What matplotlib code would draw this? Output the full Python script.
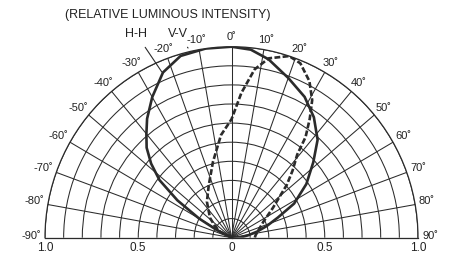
import numpy as np
import matplotlib
matplotlib.use("Agg")
import matplotlib.pyplot as plt

plt.rcParams['font.family'] = ['Liberation Sans', 'DejaVu Sans']

# H-H (solid) relative intensity vs angle (deg)
hh_angle = [-67, -63, -60, -56, -52, -48, -44, -40, -36, -30, -23, -16, -8, 0,
            6, 12, 20, 28, 35, 42, 48, 55, 62, 67, 72, 77, 82, 88, 90]
hh_value = [0.0, 0.09, 0.2, 0.35, 0.49, 0.58, 0.655, 0.71, 0.77, 0.85, 0.94, 0.99, 1.0, 1.0,
            0.99, 0.955, 0.89, 0.835, 0.77, 0.69, 0.59, 0.49, 0.38, 0.27, 0.2, 0.14, 0.09, 0.05, 0.0]

# V-V (dashed) relative intensity vs angle (deg)
vv_angle = [-70, -63, -55, -48, -35, -24, -14, -6, 0, 4, 8, 12, 18, 22, 27, 31,
            34, 37, 39, 43, 47, 55, 64, 75, 84, 90]
vv_value = [0.0, 0.07, 0.11, 0.155, 0.23, 0.30, 0.41, 0.54, 0.62, 0.76, 0.89, 0.96, 1.0, 0.985,
            0.92, 0.84, 0.75, 0.66, 0.56, 0.48, 0.405, 0.27, 0.19, 0.15, 0.13, 0.125]

angle_ticks = list(range(-90, 91, 10))
r_ticks = [1.0, 0.5, 0, 0.5, 1.0]
r_tick_angle = [-90, -90, 0, 90, 90]
r_tick_text = ['1.0', '0.5', '0', '0.5', '1.0']

ink = '#2b2b2b'

# centre of the half disk and its radii, in pixels
cx, cy, rx, ry = 231.5, 237.7, 186.5, 191.0

fig = plt.figure(figsize=(4.5, 2.6), dpi=100)
# the polar wedge box is padded to a square (y from -0.5 to 1.5)
ax = fig.add_axes([(cx - rx) / 450, 1 - (cy + 0.5 * ry) / 260, 2 * rx / 450, 2 * ry / 260],
                  projection='polar')
ax.set_theta_zero_location('N')
ax.set_theta_direction(-1)
ax.set_thetamin(-90)
ax.set_thetamax(90)
ax.set_rlim(0, 1.0)
ax.set_aspect('auto')

ax.set_xticks(np.radians(angle_ticks))
ax.set_xticklabels([])
ax.set_yticks(np.arange(0.1, 1.01, 0.1))
ax.set_yticklabels([])
ax.grid(True, color=ink, lw=0.75)
for sp in ax.spines.values():
    sp.set_color(ink)
    sp.set_linewidth(0.9)

ax.plot(np.radians(hh_angle), hh_value, color=ink, lw=1.9, solid_capstyle='round')
ax.plot(np.radians(vv_angle), vv_value, color=ink, lw=1.9, linestyle=(0, (2.2, 0.9)))

# angle labels round the rim
for a in angle_ticks:
    t = np.radians(a)
    s, c = np.sin(t), np.cos(t)
    dx = s * (13.5 if a < 0 else 12)
    dy = 2 + 8 * c
    ax.annotate(f"{a}\u02da", (t, 1.0), xytext=(dx, dy), textcoords='offset pixels',
                ha='center', va='center', fontsize=8, color='#222222', annotation_clip=False)

# radial scale under the baseline
for a, r, txt in zip(r_tick_angle, r_ticks, r_tick_text):
    ax.annotate(txt, (np.radians(a), r), xytext=(0, -10), textcoords='offset pixels',
                ha='center', va='center', fontsize=8.5, color='#222222', annotation_clip=False)

# curve names with leader lines
ax.annotate('H-H', (np.radians(-23.3), 0.945), xytext=(np.radians(-25.6), 1.183),
            ha='center', va='center', fontsize=9, color='#222222', annotation_clip=False,
            arrowprops=dict(arrowstyle='-', color=ink, lw=0.8, shrinkA=4, shrinkB=0))
ax.annotate('V-V', (np.radians(-13.2), 1.02), xytext=(np.radians(-15.2), 1.105),
            ha='center', va='center', fontsize=9, color='#222222', annotation_clip=False,
            arrowprops=dict(arrowstyle='-', color=ink, lw=0.8, shrinkA=4, shrinkB=0))

fig.text(167.5/450, 1 - 15/260, '(RELATIVE LUMINOUS INTENSITY)', ha='center', va='center',
         fontsize=9, color='#222222')

fig.savefig('out.png', dpi=100)
